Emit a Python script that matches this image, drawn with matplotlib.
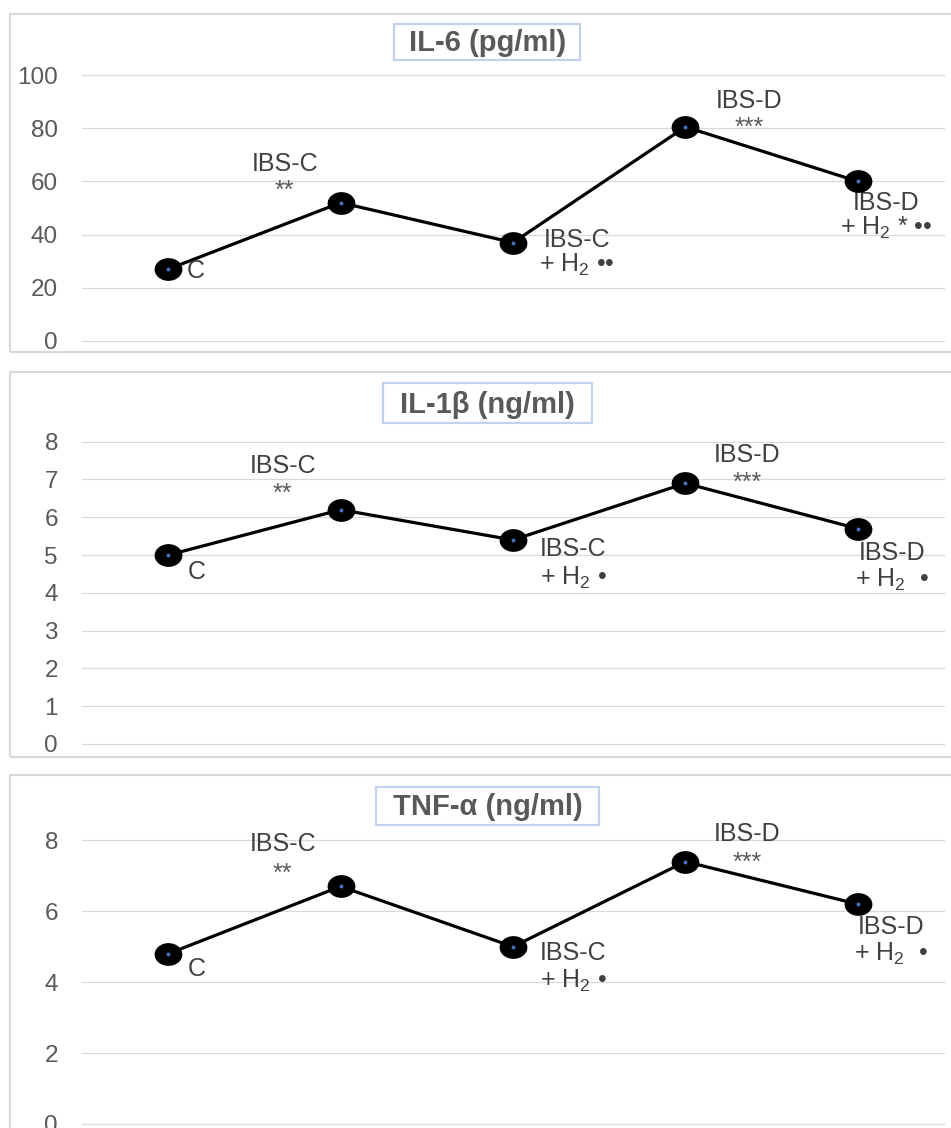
import matplotlib
matplotlib.use('Agg')
import matplotlib.pyplot as plt
from matplotlib.path import Path
from matplotlib.patches import Rectangle

plt.rcParams['font.family'] = ['Liberation Sans', 'DejaVu Sans']
plt.rcParams['mathtext.fontset'] = 'custom'
plt.rcParams['mathtext.rm'] = 'Liberation Sans'
plt.rcParams['mathtext.default'] = 'regular'

# ---------------- data ----------------
groups = ['C', 'IBS-C', 'IBS-C + H2', 'IBS-D', 'IBS-D + H2']
il6 = [27, 52, 37, 80.5, 60]
il1b = [5.0, 6.2, 5.4, 6.9, 5.7]
tnfa = [4.8, 6.7, 5.0, 7.4, 6.2]
titles = ['IL-6 (pg/ml)', 'IL-1β (ng/ml)', 'TNF-α (ng/ml)']
yticks_il6 = [0, 20, 40, 60, 80, 100]
yticks_il1b = [0, 1, 2, 3, 4, 5, 6, 7, 8]
yticks_tnfa = [0, 2, 4, 6, 8]
line1_il6 = ['C', 'IBS-C', 'IBS-C', 'IBS-D', 'IBS-D']
line2_il6 = ['', '**', r'+ H$_2$ ••', '***', r'+ H$_2$ * ••']
line1_il1b = ['C', 'IBS-C', 'IBS-C', 'IBS-D', 'IBS-D']
line2_il1b = ['', '**', r'+ H$_2$ •', '***', r'+ H$_2$  •']
line1_tnfa = ['C', 'IBS-C', 'IBS-C', 'IBS-D', 'IBS-D']
line2_tnfa = ['', '**', r'+ H$_2$ •', '***', r'+ H$_2$  •']

# ---------------- layout (pixels) ----------------
W, H = 951, 1128
fig = plt.figure(figsize=(W / 100, H / 100), dpi=100)

def fx(px):
    return px / W

def fy(py):
    return 1 - py / H

panels = [
    dict(vals=il6, ticks=yticks_il6, ymax=100, top=75, bot=341, title=titles[0],
         l1=line1_il6, l2=line2_il6, border=(14, 352), tbox=(394, 24, 580, 60), tbase=51,
         off=[(19, -8.5, None), (-56, 31.5, 5), (64, -4.5, -29.5), (64, 18.5, -8), (28, -28.5, -53.5)]),
    dict(vals=il1b, ticks=yticks_il1b, ymax=8, top=441.7, bot=744, title=titles[1],
         l1=line1_il1b, l2=line2_il1b, border=(372, 757), tbox=(383, 383, 592, 423), tbase=413,
         off=[(20, -23.5, None), (-58, 36.5, 9), (60, -16.5, -44.5), (62, 21.5, -7), (34, -31.5, -58.5)]),
    dict(vals=tnfa, ticks=yticks_tnfa, ymax=8, top=840.3, bot=1124, title=titles[2],
         l1=line1_tnfa, l2=line2_tnfa, border=(775, 1145), tbox=(376, 787, 599, 825), tbase=815,
         off=[(20, -22.5, None), (-58, 35.5, 6), (60, -13.5, -41.5), (62, 20.5, -8), (33, -29.5, -56.5)]),
]

uc = Path.unit_circle()
ellipse = Path(uc.vertices * [1.22, 1.0], uc.codes)

label_color = '#404040'
star_color = '#5a5a5a'
tick_color = '#595959'
grid_color = '#D9D9D9'

for p in panels:
    # chart-area border
    y0, y1 = p['border']
    fig.add_artist(Rectangle((fx(10), fy(y1)), (965 - 10) / W, (y1 - y0) / H,
                             transform=fig.transFigure, fill=False,
                             edgecolor='#D9D9D9', lw=1.5, zorder=1))
    # title box and title
    bx0, by0, bx1, by1 = p['tbox']
    fig.add_artist(Rectangle((fx(bx0), fy(by1)), (bx1 - bx0) / W, (by1 - by0) / H,
                             transform=fig.transFigure, facecolor='white',
                             edgecolor='#C3D2EC', lw=1.6, zorder=2))
    fig.text(fx(487.5), fy(p['tbase']), p['title'], ha='center', va='baseline',
             fontsize=21, fontweight='bold', color='#595959', zorder=5)

    ax = fig.add_axes([fx(82), fy(p['bot']), 862 / W, (p['bot'] - p['top']) / H])
    ax.set_xlim(-0.5, 4.5)
    ax.set_ylim(0, p['ymax'])
    for s in ax.spines.values():
        s.set_visible(False)
    ax.set_xticks([])
    ax.set_yticks(p['ticks'])
    ax.yaxis.grid(True, color=grid_color, lw=0.9)
    for gl in ax.get_ygridlines():
        gl.set_clip_on(False)
    ax.set_axisbelow(True)
    ax.tick_params(axis='y', length=0, pad=17.3, labelsize=17.5, labelcolor=tick_color)
    ax.patch.set_alpha(0)

    x = list(range(len(groups)))
    ax.plot(x, p['vals'], color='black', lw=2.3, zorder=3, clip_on=False)
    ax.plot(x, p['vals'], ls='none', marker=ellipse, ms=20, mfc='black',
            mec='black', mew=0, zorder=4, clip_on=False)
    ax.plot(x, p['vals'], ls='none', marker='o', ms=2.8, mfc='#4472C4',
            mec='#4472C4', mew=0, zorder=5, clip_on=False)

    for i, v in enumerate(p['vals']):
        dx, dy1, dy2 = p['off'][i]
        ha = 'left' if i == 0 else 'center'
        ax.annotate(p['l1'][i], xy=(i, v), xytext=(dx, dy1), textcoords='offset pixels',
                    ha=ha, va='baseline', fontsize=18, color=label_color,
                    annotation_clip=False)
        if dy2 is not None and p['l2'][i]:
            is_star = p['l2'][i].startswith('*')
            ax.annotate(p['l2'][i], xy=(i, v), xytext=(dx, dy2), textcoords='offset pixels',
                        ha=ha, va='baseline', fontsize=18,
                        color=star_color if is_star else label_color,
                        annotation_clip=False)

fig.savefig('out.png', dpi=100)
